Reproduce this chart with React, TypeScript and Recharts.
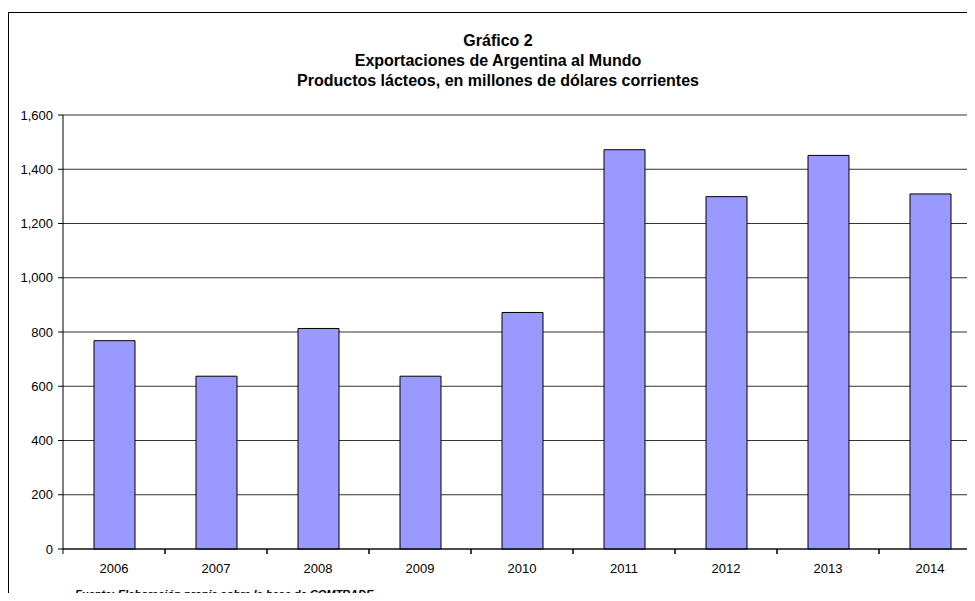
import React from "react";
import { BarChart, Bar, XAxis, YAxis, CartesianGrid } from "recharts";

const years = ["2006", "2007", "2008", "2009", "2010", "2011", "2012", "2013", "2014"];
const exportsValues = [768, 637, 813, 637, 872, 1472, 1299, 1451, 1309];
const yTicks = [0, 200, 400, 600, 800, 1000, 1200, 1400, 1600];
const titleLines = [
  "Gráfico 2",
  "Exportaciones de Argentina al Mundo",
  "Productos lácteos, en millones de dólares corrientes",
];
const sourceNote = "Fuente: Elaboración propia sobre la base de COMTRADE.";

const data = years.map((y, i) => ({ year: y, value: exportsValues[i] }));

const FONT = "'Liberation Sans', Arial, sans-serif";
const CHART_W = 1000;
const MARGIN = { top: 115, right: 19, left: 0, bottom: 22 };
const Y_W = 63;
const BAND = (CHART_W - MARGIN.left - MARGIN.right - Y_W) / years.length;

const XTick = (props: any) => {
  const { x, y, payload } = props;
  return (
    <g>
      <line x1={x - BAND / 2} x2={x - BAND / 2} y1={y} y2={y + 5} stroke="#000" strokeWidth={1} />
      <line x1={x + BAND / 2} x2={x + BAND / 2} y1={y} y2={y + 5} stroke="#000" strokeWidth={1} />
      <text x={x} y={y + 24} textAnchor="middle" fontSize={13} fontFamily={FONT} fill="#000">
        {payload.value}
      </text>
    </g>
  );
};

export default function App() {
  return (
    <div
      style={{
        position: "relative",
        width: 975,
        height: 601,
        margin: -8,
        overflow: "hidden",
        background: "#fff",
        fontFamily: FONT,
      }}
    >
      <div
        style={{
          position: "absolute",
          left: 8,
          top: 12,
          width: 1100,
          height: 700,
          border: "1.5px solid #000",
          boxSizing: "border-box",
        }}
      />
      {titleLines.map((t, i) => (
        <div
          key={i}
          style={{
            position: "absolute",
            left: 498 - 300,
            width: 600,
            top: 31.5 + i * 20,
            textAlign: "center",
            fontWeight: "bold",
            fontSize: 16,
            lineHeight: "18px",
            color: "#000",
          }}
        >
          {t}
        </div>
      ))}
      <div style={{ position: "absolute", left: 0, top: 0 }}>
        <BarChart width={CHART_W} height={601} data={data} margin={MARGIN} barSize={41}>
          <CartesianGrid vertical={false} stroke="#333" strokeWidth={1} />
          <XAxis
            dataKey="year"
            tickLine={false}
            tickSize={0}
            tickMargin={0}
            axisLine={{ stroke: "#000", strokeWidth: 1 }}
            tick={<XTick />}
            height={30}
            interval={0}
          />
          <YAxis
            width={Y_W}
            domain={[0, 1600]}
            ticks={yTicks}
            interval={0}
            tickSize={5}
            tickMargin={5}
            tickLine={{ stroke: "#000" }}
            axisLine={{ stroke: "#000", strokeWidth: 1 }}
            tickFormatter={(v: number) => v.toLocaleString("en-US")}
            tick={{ fontSize: 13, fontFamily: FONT, fill: "#000" }}
          />
          <Bar dataKey="value" fill="#9999FF" stroke="#000" strokeWidth={1} isAnimationActive={false} />
        </BarChart>
      </div>
      <div
        style={{
          position: "absolute",
          left: 75,
          top: 588,
          fontSize: 11,
          lineHeight: "13px",
          fontWeight: "bold",
          fontStyle: "italic",
          color: "#000",
          whiteSpace: "nowrap",
        }}
      >
        {sourceNote}
      </div>
    </div>
  );
}
